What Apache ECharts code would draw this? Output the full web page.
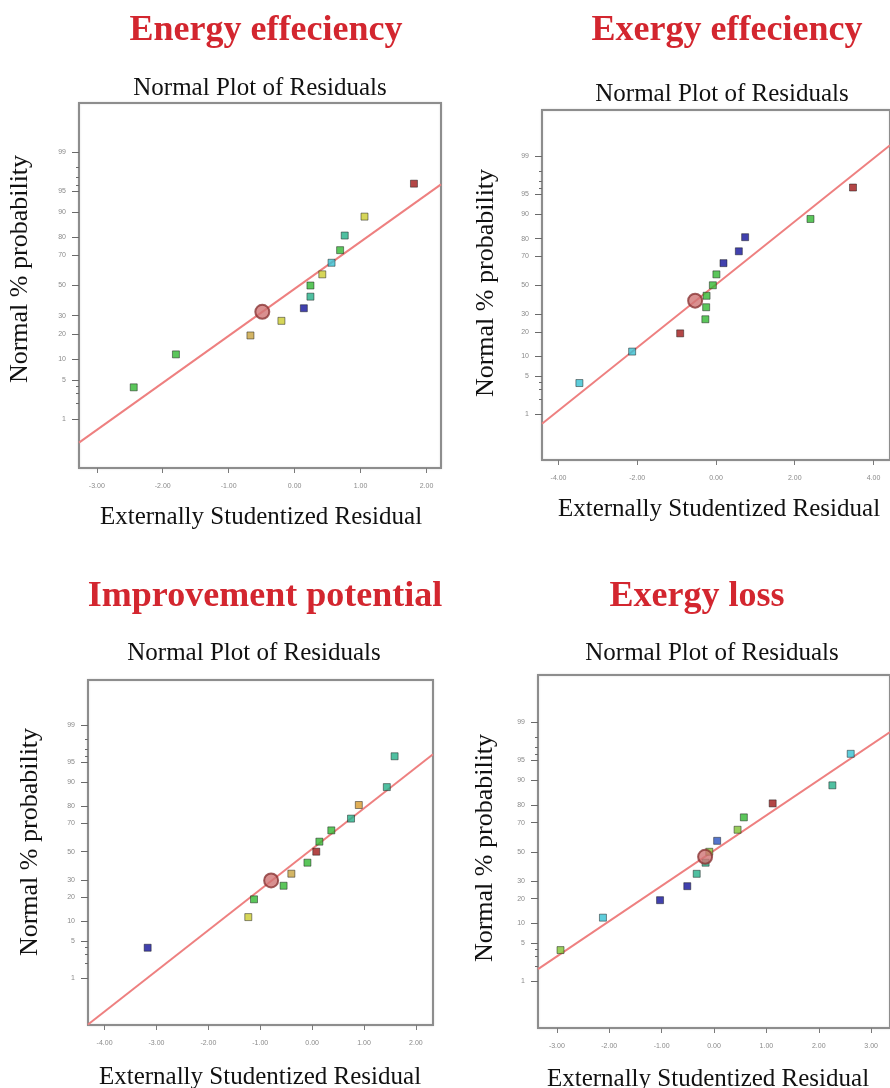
<!DOCTYPE html>
<html><head><meta charset="utf-8">
<script src="https://cdn.jsdelivr.net/npm/echarts@6/dist/echarts.min.js"></script>
<style>html,body{margin:0;padding:0;background:#fff}#c{width:890px;height:1088px}</style>
</head><body><div id="c"></div><script>
// ---------- text ----------
const panelTitles = ['Energy effeciency', 'Exergy effeciency', 'Improvement potential', 'Exergy loss'];
const subTitle = 'Normal Plot of Residuals';
const xName = 'Externally Studentized Residual';
const yName = 'Normal % probability';

// ---------- probability tick labels ----------
const probTicks = [1, 5, 10, 20, 30, 50, 70, 80, 90, 95, 99];
const probMinorTicks = [2, 3, 4, 96, 97, 98];

// ---------- Energy effeciency ----------
const energyResid = [-2.44, -1.80, -0.67, -0.20, 0.14, 0.24, 0.24, 0.42, 0.56, 0.69, 0.76, 1.06, 1.81];
const energyProb  = [3.8, 11.5, 19.2, 26.9, 34.6, 42.3, 50, 57.7, 65.4, 73.1, 80.8, 88.5, 96.2];
const energyGroup = ['green','green','gold','yellow','blue','teal','green','yellow','cyan','green','teal','yellow','red'];
const energyMarkResid = [-0.49];
const energyMarkProb = [32.3];
const energyLineResid = [-3.27, 2.22];
const energyLineProb = [0.31, 96.1];
const energyXTicks = [-3, -2, -1, 0, 1, 2];

// ---------- Exergy effeciency ----------
const exergyResid = [-3.47, -2.13, -0.91, -0.27, -0.25, -0.24, -0.08, 0.01, 0.19, 0.58, 0.74, 2.40, 3.48];
const exergyProb  = [3.9, 11.6, 19.3, 27.0, 34.6, 42.5, 50, 57.8, 65.5, 73.0, 80.7, 88.4, 96.1];
const exergyGroup = ['cyan','cyan','red','green','green','green','green','green','blue','blue','blue','green','red'];
const exergyMarkResid = [-0.53];
const exergyMarkProb = [39.1];
const exergyLineResid = [-4.42, 4.42];
const exergyLineProb = [0.63, 99.42];
const exergyXTicks = [-4, -2, 0, 2, 4];

// ---------- Improvement potential ----------
const improveResid = [-3.17, -1.23, -1.12, -0.55, -0.40, -0.09, 0.08, 0.14, 0.37, 0.75, 0.90, 1.44, 1.59];
const improveProb  = [3.9, 11.5, 19.1, 26.6, 34.3, 42.0, 50, 57.3, 65.2, 72.8, 80.4, 88.2, 96.0];
const improveGroup = ['blue','yellow','green','green','gold','green','red','green','green','teal','orange','teal','teal'];
const improveMarkResid = [-0.79];
const improveMarkProb = [29.9];
const improveLineResid = [-4.32, 2.33];
const improveLineProb = [0.076, 96.3];
const improveXTicks = [-4, -3, -2, -1, 0, 1, 2];

// ---------- Exergy loss ----------
const lossResid = [-2.93, -2.12, -1.03, -0.51, -0.33, -0.16, -0.09, 0.06, 0.45, 0.57, 1.12, 2.26, 2.61];
const lossProb  = [3.85, 11.8, 19.2, 26.8, 34.6, 42.2, 50, 57.8, 65.4, 73.2, 80.8, 88.4, 96.1];
const lossGroup = ['lime','cyan','blue','blue','teal','teal','lime','mblue','lime','green','red','teal','cyan'];
const lossMarkResid = [-0.17];
const lossMarkProb = [46.4];
const lossLineResid = [-3.36, 3.36];
const lossLineProb = [1.74, 98.43];
const lossXTicks = [-3, -2, -1, 0, 1, 2, 3];

// ---------- styles ----------
const palette = {
  blue: '#12129a', mblue: '#2a52c0', cyan: '#36c0d2', teal: '#24b08a', green: '#32b832',
  lime: '#80c232', yellow: '#cccc30', gold: '#c8a23e', orange: '#d89a2c', red: '#a01818'
};

// inverse normal CDF (probability scale)
function probit(pct) {
  const p = pct / 100;
  const a = [-3.969683028665376e+01, 2.209460984245205e+02, -2.759285104469687e+02, 1.383577518672690e+02, -3.066479806614716e+01, 2.506628277459239e+00];
  const b = [-5.447609879822406e+01, 1.615858368580409e+02, -1.556989798598866e+02, 6.680131188771972e+01, -1.328068155288572e+01];
  const c = [-7.784894002430293e-03, -3.223964580411365e-01, -2.400758277161838e+00, -2.549732539343734e+00, 4.374664141464968e+00, 2.938163982698783e+00];
  const d = [7.784695709041462e-03, 3.224671290700398e-01, 2.445134137142996e+00, 3.754408661907416e+00];
  const pl = 0.02425, ph = 1 - pl;
  let q, r;
  if (p < pl) {
    q = Math.sqrt(-2 * Math.log(p));
    return (((((c[0]*q+c[1])*q+c[2])*q+c[3])*q+c[4])*q+c[5]) / ((((d[0]*q+d[1])*q+d[2])*q+d[3])*q+1);
  } else if (p <= ph) {
    q = p - 0.5; r = q * q;
    return (((((a[0]*r+a[1])*r+a[2])*r+a[3])*r+a[4])*r+a[5])*q / (((((b[0]*r+b[1])*r+b[2])*r+b[3])*r+b[4])*r+1);
  } else {
    q = Math.sqrt(-2 * Math.log(1 - p));
    return -(((((c[0]*q+c[1])*q+c[2])*q+c[3])*q+c[4])*q+c[5]) / ((((d[0]*q+d[1])*q+d[2])*q+d[3])*q+1);
  }
}

const panels = [
  { resid: energyResid, prob: energyProb, group: energyGroup, mx: energyMarkResid, mp: energyMarkProb,
    lx: energyLineResid, lp: energyLineProb, xt: energyXTicks,
    grid: { left: 79, top: 103, width: 362, height: 365 }, xMin: -3.27, xMax: 2.22, zMin: -3.18, zMax: 3.18 },
  { resid: exergyResid, prob: exergyProb, group: exergyGroup, mx: exergyMarkResid, mp: exergyMarkProb,
    lx: exergyLineResid, lp: exergyLineProb, xt: exergyXTicks,
    grid: { left: 542, top: 110, width: 350, height: 350 }, xMin: -4.42, xMax: 4.42, zMin: -3.15, zMax: 3.16 },
  { resid: improveResid, prob: improveProb, group: improveGroup, mx: improveMarkResid, mp: improveMarkProb,
    lx: improveLineResid, lp: improveLineProb, xt: improveXTicks,
    grid: { left: 88, top: 680, width: 345, height: 345 }, xMin: -4.32, xMax: 2.33, zMin: -3.18, zMax: 3.15 },
  { resid: lossResid, prob: lossProb, group: lossGroup, mx: lossMarkResid, mp: lossMarkProb,
    lx: lossLineResid, lp: lossLineProb, xt: lossXTicks,
    grid: { left: 538, top: 675, width: 356, height: 353 }, xMin: -3.36, xMax: 3.36, zMin: -3.17, zMax: 3.18 }
];

const zTicks = probTicks.map(probit);
const zMinor = probMinorTicks.map(probit);
function zLabel(v) {
  let best = 0, bd = Infinity;
  zTicks.forEach((z, i) => { const d = Math.abs(z - v); if (d < bd) { bd = d; best = i; } });
  return String(probTicks[best]);
}

const grids = [], xAxes = [], yAxes = [], series = [];
panels.forEach((P, i) => {
  grids.push(Object.assign({ show: true, borderColor: '#8d8d8d', borderWidth: 2, backgroundColor: '#fff',
    shadowColor: 'rgba(0,0,0,0.15)', shadowBlur: 2 }, P.grid));
  xAxes.push({
    gridIndex: i, type: 'value', position: 'bottom', min: P.xMin, max: P.xMax,
    axisLine: { show: false, onZero: false }, splitLine: { show: false },
    axisTick: { show: true, length: 5, customValues: P.xt, lineStyle: { color: '#7a7a7a', width: 1 } },
    axisLabel: { customValues: P.xt, formatter: v => v.toFixed(2), fontSize: 7, color: '#8a8a8a',
      margin: 15, fontFamily: 'Liberation Sans' }
  });
  yAxes.push({
    gridIndex: i, type: 'value', position: 'left', min: P.zMin, max: P.zMax,
    axisLine: { show: false, onZero: false }, splitLine: { show: false },
    axisTick: { show: true, length: 7, customValues: zTicks, lineStyle: { color: '#6a6a6a', width: 1 } },
    axisLabel: { customValues: zTicks, formatter: zLabel, fontSize: 7, color: '#8a8a8a',
      margin: 13, fontFamily: 'Liberation Sans' }
  });
  yAxes.push({
    gridIndex: i, type: 'value', position: 'left', min: P.zMin, max: P.zMax,
    axisLine: { show: false, onZero: false }, splitLine: { show: false }, axisLabel: { show: false },
    axisTick: { show: true, length: 3, customValues: zMinor, lineStyle: { color: '#6a6a6a', width: 1 } }
  });
  series.push({
    type: 'line', xAxisIndex: i, yAxisIndex: 2 * i, symbol: 'none', silent: true, z: 2,
    lineStyle: { color: '#ee8080', width: 2 },
    data: P.lx.map((x, k) => [x, probit(P.lp[k])])
  });
  series.push({
    type: 'scatter', xAxisIndex: i, yAxisIndex: 2 * i, symbol: 'rect', symbolSize: 7, z: 3,
    data: P.resid.map((x, k) => ({
      value: [x, probit(P.prob[k])],
      itemStyle: { color: palette[P.group[k]], borderColor: 'rgba(20,20,20,0.6)', borderWidth: 1 }
    }))
  });
  series.push({
    type: 'scatter', xAxisIndex: i, yAxisIndex: 2 * i, symbol: 'circle', symbolSize: 14, z: 4,
    itemStyle: { color: '#cf7474', borderColor: '#8a3434', borderWidth: 2 },
    data: P.mx.map((x, k) => [x, probit(P.mp[k])])
  });
});

const serif = '"Liberation Serif", "Times New Roman", serif';
const textPos = [
  { t: [266, 31], s: [260, 88], x: [261, 517], y: [20, 269] },
  { t: [727, 31], s: [722, 94], x: [719, 509], y: [486, 283] },
  { t: [265, 597], s: [254, 653], x: [260, 1077], y: [30, 842] },
  { t: [697, 597], s: [712, 653], x: [708, 1079], y: [485, 848] }
];
const graphic = [];
textPos.forEach((p, i) => {
  graphic.push({ type: 'text', x: p.t[0], y: p.t[1], style: { text: panelTitles[i], fontFamily: serif,
    fontSize: 36, fontWeight: 'bold', fill: '#d3262f', align: 'center', verticalAlign: 'middle' } });
  graphic.push({ type: 'text', x: p.s[0], y: p.s[1], style: { text: subTitle, fontFamily: serif,
    fontSize: 25, fill: '#111', align: 'center', verticalAlign: 'middle' } });
  graphic.push({ type: 'text', x: p.x[0], y: p.x[1], style: { text: xName, fontFamily: serif,
    fontSize: 25, fill: '#111', align: 'center', verticalAlign: 'middle' } });
  graphic.push({ type: 'text', x: p.y[0], y: p.y[1], rotation: Math.PI / 2, style: { text: yName, fontFamily: serif,
    fontSize: 26, fill: '#111', align: 'center', verticalAlign: 'middle' } });
});

const chart = echarts.init(document.getElementById('c'), null, { renderer: 'canvas' });
chart.setOption({
  backgroundColor: '#fff',
  animation: false,
  grid: grids,
  xAxis: xAxes,
  yAxis: yAxes,
  series: series,
  graphic: graphic
});
</script></body></html>
